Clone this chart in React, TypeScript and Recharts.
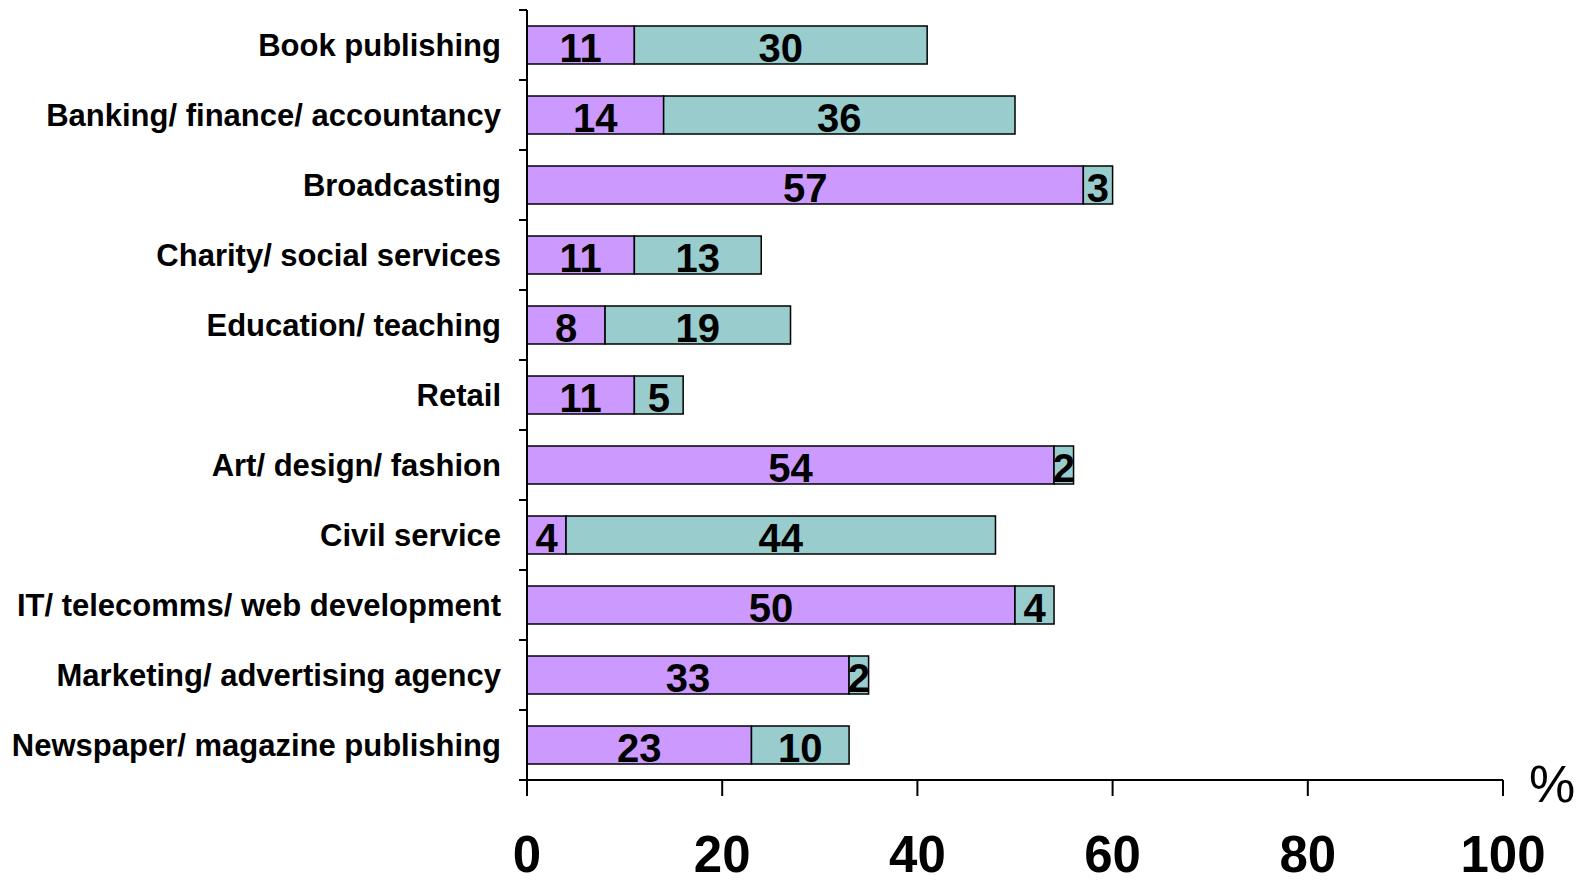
import { BarChart, Bar, XAxis, YAxis, LabelList } from 'recharts';

const categories = [
  'Book publishing',
  'Banking/ finance/ accountancy',
  'Broadcasting',
  'Charity/ social services',
  'Education/ teaching',
  'Retail',
  'Art/ design/ fashion',
  'Civil service',
  'IT/ telecomms/ web development',
  'Marketing/ advertising agency',
  'Newspaper/ magazine publishing',
];
const purpleValues = [11, 14, 57, 11, 8, 11, 54, 4, 50, 33, 23];
const tealValues = [30, 36, 3, 13, 19, 5, 2, 44, 4, 2, 10];
const xTicks = [0, 20, 40, 60, 80, 100];

const W = 1585;
const H = 883;
const margin = { top: 10, right: 82, bottom: 3, left: 0 };
const xAxisHeight = 100;
const yAxisWidth = 527;
const plotHeight = H - margin.top - margin.bottom - xAxisHeight;
const band = plotHeight / categories.length;
const axisX = margin.left + yAxisWidth;
const FONT = '"Liberation Sans", Arial, Helvetica, sans-serif';

const data = categories.map((name, i) => ({
  name,
  purple: purpleValues[i],
  teal: tealValues[i],
}));

// category ticks sit on band edges, not centres
function CategoryTick(props: any) {
  const { y, payload, index } = props;
  const last = index === categories.length - 1;
  return (
    <g>
      <line x1={axisX - 8} x2={axisX} y1={y - band / 2} y2={y - band / 2} stroke="#000" strokeWidth={2} />
      {last && <line x1={axisX - 8} x2={axisX} y1={y + band / 2} y2={y + band / 2} stroke="#000" strokeWidth={2} />}
      <text
        x={axisX - 26}
        y={y}
        dy="0.35em"
        textAnchor="end"
        fontSize={31}
        fontWeight="bold"
        fontFamily={FONT}
        fill="#000"
      >
        {payload.value}
      </text>
    </g>
  );
}

function ValueTick(props: any) {
  const { x, y, payload } = props;
  return (
    <text x={x} y={y + 74} textAnchor="middle" fontSize={51} fontWeight="bold" fontFamily={FONT} fill="#000">
      {payload.value}
    </text>
  );
}

export default function App() {
  return (
    <div style={{ position: 'absolute', left: 0, top: 0, width: W, height: H, background: '#fff', fontFamily: FONT }}>
      <BarChart width={W} height={H} data={data} layout="vertical" margin={margin}>
        <XAxis
          type="number"
          domain={[0, 100]}
          ticks={xTicks}
          height={xAxisHeight}
          tickSize={16}
          stroke="#000"
          strokeWidth={2}
          tick={<ValueTick />}
          interval={0}
        />
        <YAxis
          type="category"
          dataKey="name"
          width={yAxisWidth}
          tickLine={false}
          stroke="#000"
          strokeWidth={2}
          tick={<CategoryTick />}
          interval={0}
        />
        <Bar dataKey="purple" stackId="a" fill="#CC99FF" stroke="#000" strokeWidth={1.5} barSize={38} isAnimationActive={false}>
          <LabelList dataKey="purple" position="center" fill="#000" fontSize={40} fontWeight="bold" fontFamily={FONT} dy={3} />
        </Bar>
        <Bar dataKey="teal" stackId="a" fill="#99CCCC" stroke="#000" strokeWidth={1.5} barSize={38} isAnimationActive={false}>
          <LabelList dataKey="teal" position="center" fill="#000" fontSize={40} fontWeight="bold" fontFamily={FONT} dy={3} />
        </Bar>
      </BarChart>
      <div style={{ position: 'absolute', left: 1529, top: 758, fontSize: 52, lineHeight: '52px', color: '#000' }}>%</div>
    </div>
  );
}
